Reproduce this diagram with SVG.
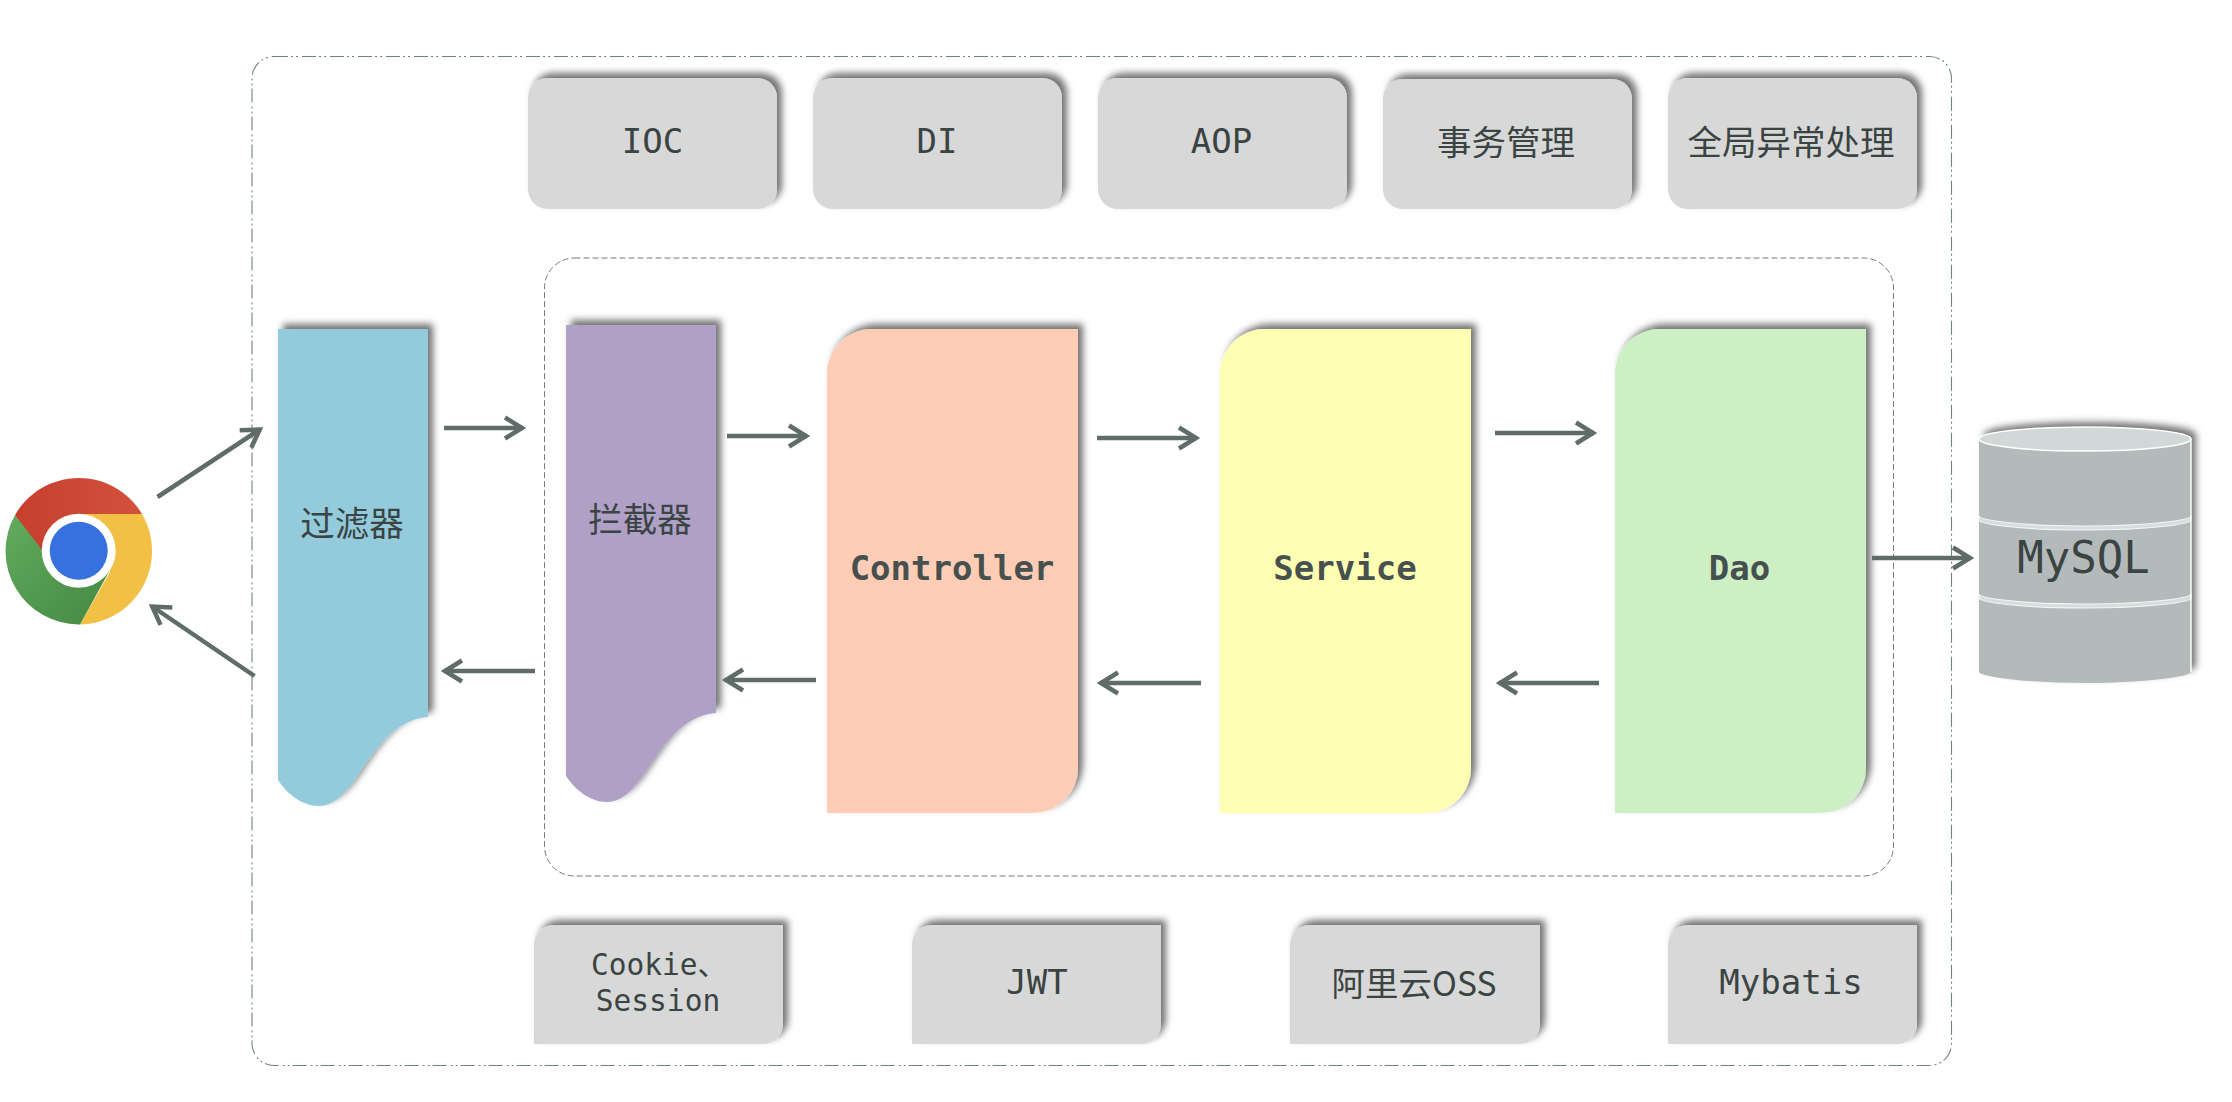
<svg xmlns="http://www.w3.org/2000/svg" width="2232" height="1102" viewBox="0 0 2232 1102">
<style>
text{font-family:"DejaVu Sans Mono","Noto Sans CJK SC",monospace;fill:#3a4442;text-anchor:middle}
.t34{font-size:34px}
.cjk{font-size:34.500px;font-family:"Noto Sans CJK SC",sans-serif}
.b{font-size:34px;font-weight:700;fill:#46504e}
.s{filter:url(#sh)}
.g{fill:#d8d8d8}
.a{fill:none;stroke:#5f6c69;stroke-width:4.500;marker-end:url(#ah)}
</style>
<defs>
<filter id="sh" x="-15%" y="-15%" width="130%" height="130%"><feDropShadow dx="5" dy="-5" stdDeviation="3.500" flood-color="#000" flood-opacity=".55"/></filter>
<marker id="ah" markerUnits="userSpaceOnUse" markerWidth="30" markerHeight="36" refX="23" refY="18" orient="auto"><path d="M5 7.500 L22 18 L5 28.500" fill="none" stroke="#5f6c69" stroke-width="4.500"/></marker>
<path id="wave" d="M278 329H428V717C395 719 375 750 358 775C345 795 333 806 319 806C303 806 288 795 278 780Z"/>
<linearGradient id="rd" x1="0" x2="1" y1="0" y2="0"><stop offset="0" stop-color="#c63f2d"/><stop offset="1" stop-color="#d3523d"/></linearGradient>
<linearGradient id="gr" x1="0" x2="1" y1="0" y2="1"><stop offset="0" stop-color="#62ab5e"/><stop offset="1" stop-color="#458843"/></linearGradient>
</defs>
<rect width="2232" height="1102" fill="#fff"/>
<g id="frames" fill="none">
<rect id="outer" x="252" y="56.500" width="1699.500" height="1009" rx="22" stroke="#6f8381" stroke-width="1.100" stroke-dasharray="14 3 2 3 2 4"/>
<rect id="inner" x="544.500" y="258" width="1349" height="618" rx="30" stroke="#6f7f7d" stroke-width="1" stroke-dasharray="6 3"/>
</g>
<g id="browser">
<path d="M15 515A73.500 73.500 0 0 1 142 514H78L42 560Z" fill="url(#rd)"/>
<path d="M142 514A73.500 73.500 0 0 1 80 624.500L110 572L78 514Z" fill="#f2c045"/>
<path d="M15 515A73.500 73.500 0 0 0 80 624.500L110 570L60 580L42 550Z" fill="url(#gr)"/>
<circle cx="78.700" cy="550.700" r="37" fill="#fff"/>
<circle cx="78.700" cy="550.700" r="29" fill="#3671df"/>
</g>
<g id="ioc"><rect class="s g" x="528" y="78" width="249" height="131" rx="20"/><text class="t34" x="652.500" y="153">IOC</text></g>
<g id="di"><rect class="s g" x="813" y="78" width="249" height="131" rx="20"/><text class="t34" x="937" y="153">DI</text></g>
<g id="aop"><rect class="s g" x="1098" y="78" width="249" height="131" rx="20"/><text class="t34" x="1221.500" y="153">AOP</text></g>
<g id="tx"><rect class="s g" x="1383" y="79" width="249" height="130" rx="20"/><text class="cjk" x="1506" y="155">事务管理</text></g>
<g id="ex"><rect class="s g" x="1668" y="78" width="249" height="131" rx="20"/><text class="cjk" x="1791" y="155">全局异常处理</text></g>
<g id="filter"><use href="#wave" class="s" fill="#93cbdd"/><text class="cjk" x="352" y="536">过滤器</text></g>
<g id="interceptor"><use href="#wave" class="s" x="288" y="-4" fill="#b0a0c5"/><text class="cjk" x="640" y="532">拦截器</text></g>
<g id="controller"><path class="s" d="M872 329H1078V768A45 45 0 0 1 1033 813H827V374A45 45 0 0 1 872 329Z" fill="#ffccb5"/><text class="b" x="952" y="580">Controller</text></g>
<g id="service"><path class="s" d="M1265 329H1471V768A45 45 0 0 1 1426 813H1220V374A45 45 0 0 1 1265 329Z" fill="#ffffb3"/><text class="b" x="1345" y="580">Service</text></g>
<g id="dao"><path class="s" d="M1660 329H1866V768A45 45 0 0 1 1821 813H1615V374A45 45 0 0 1 1660 329Z" fill="#cdefc4"/><text class="b" x="1739.500" y="580">Dao</text></g>
<g id="mysql">
<path class="s" d="M1979 439A106 12 0 0 1 2191 439V672C2191 676 2150 683 2085 683C2020 683 1979 676 1979 672Z" fill="#b4baba"/>
<ellipse cx="2085" cy="439" rx="106" ry="12" fill="#d2d7d7" stroke="#fff" stroke-width="1.500"/>
<path d="M1979 516C1979 520 2020 526 2085 526C2150 526 2191 520 2191 516L2191 520C2191 524 2150 530 2085 530C2020 530 1979 524 1979 520Z" fill="#d8dcdc" stroke="#f2f4f4" stroke-width="1.200"/>
<path d="M1979 594C1979 598 2020 604 2085 604C2150 604 2191 598 2191 594L2191 598C2191 602 2150 608 2085 608C2020 608 1979 602 1979 598Z" fill="#d8dcdc" stroke="#f2f4f4" stroke-width="1.200"/>
<path d="M2191 439V672" stroke="#fff" stroke-width="1.500" fill="none"/>
<text x="2083.500" y="573" font-size="44">MySQL</text>
</g>
<g id="cookie"><path class="s g" d="M554 925H783V1024A20 20 0 0 1 763 1044H534V945A20 20 0 0 1 554 925Z"/><text font-size="29.500" x="659" y="975">Cookie、</text><text font-size="29.500" x="658" y="1011">Session</text></g>
<g id="jwt"><path class="s g" d="M932 925H1161V1024A20 20 0 0 1 1141 1044H912V945A20 20 0 0 1 932 925Z"/><text class="t34" x="1037" y="994">JWT</text></g>
<g id="oss"><path class="s g" d="M1310 925H1540V1024A20 20 0 0 1 1520 1044H1290V945A20 20 0 0 1 1310 925Z"/><text class="cjk" style="font-size:33.500px" x="1414" y="996">阿里云OSS</text></g>
<g id="mybatis"><path class="s g" d="M1688 925H1917V1024A20 20 0 0 1 1897 1044H1668V945A20 20 0 0 1 1688 925Z"/><text class="t34" x="1791" y="994">Mybatis</text></g>
<g id="connectors">
<path class="a" d="M157.500 497L260.500 429"/>
<path class="a" d="M254.500 676L151.500 606"/>
<path class="a" d="M444 428H523"/>
<path class="a" d="M535 671H444"/>
<path class="a" d="M727 436H807"/>
<path class="a" d="M816 680H725"/>
<path class="a" d="M1097 438H1197"/>
<path class="a" d="M1201 683H1100"/>
<path class="a" d="M1495 433H1594"/>
<path class="a" d="M1599 683H1499"/>
<path class="a" d="M1872 558H1971"/>
</g>
</svg>
